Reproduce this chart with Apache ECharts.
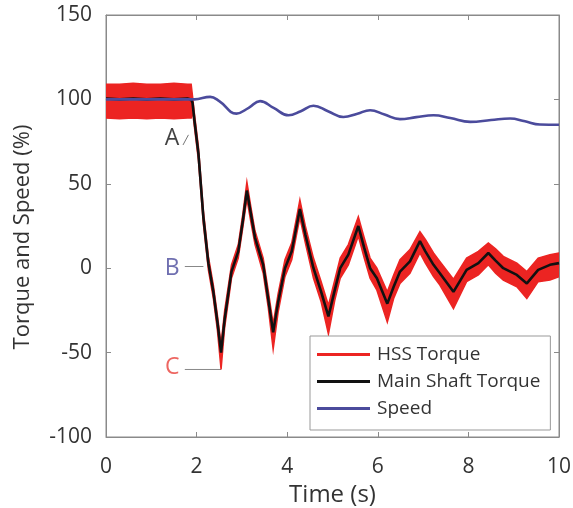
<!DOCTYPE html>
<html><head><meta charset="utf-8">
<script src="https://cdn.jsdelivr.net/npm/echarts@6/dist/echarts.min.js"></script>
<style>html,body{margin:0;padding:0;background:#fff}#c{width:573px;height:508px}</style>
</head><body><div id="c"></div>
<script>
// ---- data ----
const torqueTime = [0,0.3,0.6,0.9,1.2,1.5,1.8,1.88,1.91,1.95,2.04,2.15,2.26,2.37,2.46,2.54,2.62,2.77,2.92,3.02,3.11,3.2,3.29,3.47,3.58,3.69,3.8,3.95,4.1,4.2,4.28,4.4,4.58,4.75,4.91,5.05,5.17,5.35,5.57,5.7,5.83,5.98,6.21,6.35,6.49,6.71,6.93,7.05,7.23,7.37,7.67,7.96,8.22,8.44,8.6,8.77,9.07,9.29,9.54,9.8,10];
const mainShaftTorque = [100.5,100,100.5,100,100.5,100,100.5,100,98,88,68,30,3,-14,-32,-50,-30,-2,10,28,46,32,18,2,-18,-38,-20,0,10,24,35,20,0,-14,-28.6,-13,0,8,25,12,0,-6,-21,-11,-2,4,16,10,2,-3,-14,-1,3,9,4.5,0,-4,-9,-1,2,3];
const hssUpper = [109,109,109.5,109,109,109.5,109,109,102,92,72,34,7,-10,-28,-45,-25,2,14,32,51,36,22,6,-13,-33,-15,5,15,29,40.5,25,6,-8,-22,-7,6,14,30.5,18,6,0,-14,-4,5,11,21.6,17,9,4,-6.5,6,10,15,11.5,7,3,-2,6,8,9];
const hssLower = [89,88.5,89,88.5,89,88.5,89,89,93,84,64,26,-1,-18,-37,-60,-35,-6,6,24,41,27,14,-3,-23,-48,-26,-5,5,19,30,15,-6,-20,-39,-19,-6,2,19,6,-6,-13,-32,-18,-9,-3,9,3,-5,-10,-24,-8,-4,2,-3,-7,-11,-18,-8,-7,-5];
const speedTime = [0,1.8,1.95,2.3,2.5,2.88,3.15,3.4,3.7,4.03,4.3,4.58,4.9,5.24,5.55,5.83,6.15,6.49,6.85,7.23,7.6,8.04,8.5,8.92,9.25,9.58,10];
const speedValues = [100,100,100,101.5,99,91.6,95,99,95,90.6,93,96.2,93,89.6,91.5,93.6,91,88.3,89.5,90.6,89,86.7,87.8,88.7,87,85.1,85];
const seriesNames = ['HSS Torque','Main Shaft Torque','Speed'];
const annotLabels = ['A','B','C'];
const annotX = [1.46,1.46,1.46];
const annotY = [77,0,-59];
const leaderA = [[1.70,73],[1.82,79]];
const leaderB = [[1.74,1],[2.15,1]];
const leaderC = [[1.74,-60],[2.54,-60]];

const FONT = 'Open Sans';
const RED = '#ec2422', BLACK = '#111111', BLUE = '#4b4b9c';
const annotColors = ['#111111', BLUE, '#e8403a'];

const pair = (xs, ys) => xs.map((x, i) => [x, ys[i]]);

const chart = echarts.init(document.getElementById('c'), null, {renderer: 'canvas'});
const axisLineStyle = {color: '#8a8a8a', width: 1};
chart.setOption({
  animation: false,
  backgroundColor: '#fff',
  textStyle: {fontFamily: FONT},
  grid: {left: 106, right: 14, top: 15, bottom: 71, containLabel: false, outerBoundsMode: 'none',
         show: true, borderColor: '#8a8a8a', borderWidth: 1},
  legend: {
    data: seriesNames,
    orient: 'vertical', left: 310, top: 336,
    padding: [9, 10, 12, 7], itemGap: 8,
    itemWidth: 53, itemHeight: 3, icon: 'rect',
    borderColor: '#999', borderWidth: 1, backgroundColor: '#fff',
    textStyle: {fontFamily: FONT, fontSize: 19, color: '#333', padding: [0,0,0,2]}
  },
  xAxis: [{
    type: 'value', min: 0, max: 10, interval: 2,
    name: 'Time (s)', nameLocation: 'middle', nameGap: 43,
    nameTextStyle: {fontFamily: FONT, fontSize: 24, color: '#333'},
    axisLine: {show: true, onZero: false, lineStyle: axisLineStyle},
    axisTick: {show: true, inside: true, length: 5, lineStyle: axisLineStyle},
    axisLabel: {fontFamily: FONT, fontSize: 21, color: '#333', margin: 20},
    splitLine: {show: false}
  }, {
    type: 'value', min: 0, max: 10, interval: 2, position: 'top',
    axisLine: {show: true, onZero: false, lineStyle: axisLineStyle},
    axisTick: {show: true, inside: true, length: 5, lineStyle: axisLineStyle},
    axisLabel: {show: false}, splitLine: {show: false}
  }],
  yAxis: [{
    type: 'value', min: -100, max: 150, interval: 50,
    name: 'Torque and Speed (%)', nameLocation: 'middle', nameGap: 72, nameRotate: 90,
    nameTextStyle: {fontFamily: FONT, fontSize: 22, color: '#333', padding: [0,22,0,0]},
    axisLine: {show: true, onZero: false, lineStyle: axisLineStyle},
    axisTick: {show: true, inside: true, length: 5, lineStyle: axisLineStyle},
    axisLabel: {fontFamily: FONT, fontSize: 21, color: '#333', margin: 14},
    splitLine: {show: false}
  }, {
    type: 'value', min: -100, max: 150, interval: 50, position: 'right',
    axisLine: {show: true, onZero: false, lineStyle: axisLineStyle},
    axisTick: {show: true, inside: true, length: 5, lineStyle: axisLineStyle},
    axisLabel: {show: false}, splitLine: {show: false}
  }],
  series: [
    {type: 'custom', name: 'HSS Torque', itemStyle: {color: RED}, z: 2, clip: true,
     data: [[torqueTime[0], hssUpper[0]]],
     renderItem: (params, api) => {
       const pts = [];
       for (let i = 0; i < torqueTime.length; i++) pts.push(api.coord([torqueTime[i], hssUpper[i]]));
       for (let i = torqueTime.length - 1; i >= 0; i--) pts.push(api.coord([torqueTime[i], hssLower[i]]));
       return {type: 'polygon', shape: {points: pts}, style: {fill: RED, stroke: RED, lineWidth: 1.5}};
     }},
    {type: 'line', name: 'Main Shaft Torque', data: pair(torqueTime, mainShaftTorque),
     showSymbol: false, symbol: 'none', itemStyle: {color: BLACK},
     lineStyle: {color: BLACK, width: 2.6}, z: 3},
    {type: 'line', name: 'Speed', data: pair(speedTime, speedValues), smooth: 0.45,
     showSymbol: false, symbol: 'none', itemStyle: {color: BLUE},
     lineStyle: {color: BLUE, width: 2.6}, z: 4},
    {type: 'line', name: 'leaderA', data: leaderA, showSymbol: false, symbol: 'none',
     lineStyle: {color: '#777', width: 1}, silent: true, z: 5},
    {type: 'line', name: 'leaderB', data: leaderB, showSymbol: false, symbol: 'none',
     lineStyle: {color: '#888', width: 1}, silent: true, z: 1},
    {type: 'line', name: 'leaderC', data: leaderC, showSymbol: false, symbol: 'none',
     lineStyle: {color: '#888', width: 1}, silent: true, z: 1},
    {type: 'scatter', name: 'annotations', symbolSize: 0, silent: true, z: 6,
     data: annotLabels.map((l, i) => ({value: [annotX[i], annotY[i]], name: l, label: {color: annotColors[i]}})),
     label: {show: true, position: 'inside', formatter: p => p.name, fontFamily: FONT, fontSize: 23}
    }
  ]
});
</script></body></html>
